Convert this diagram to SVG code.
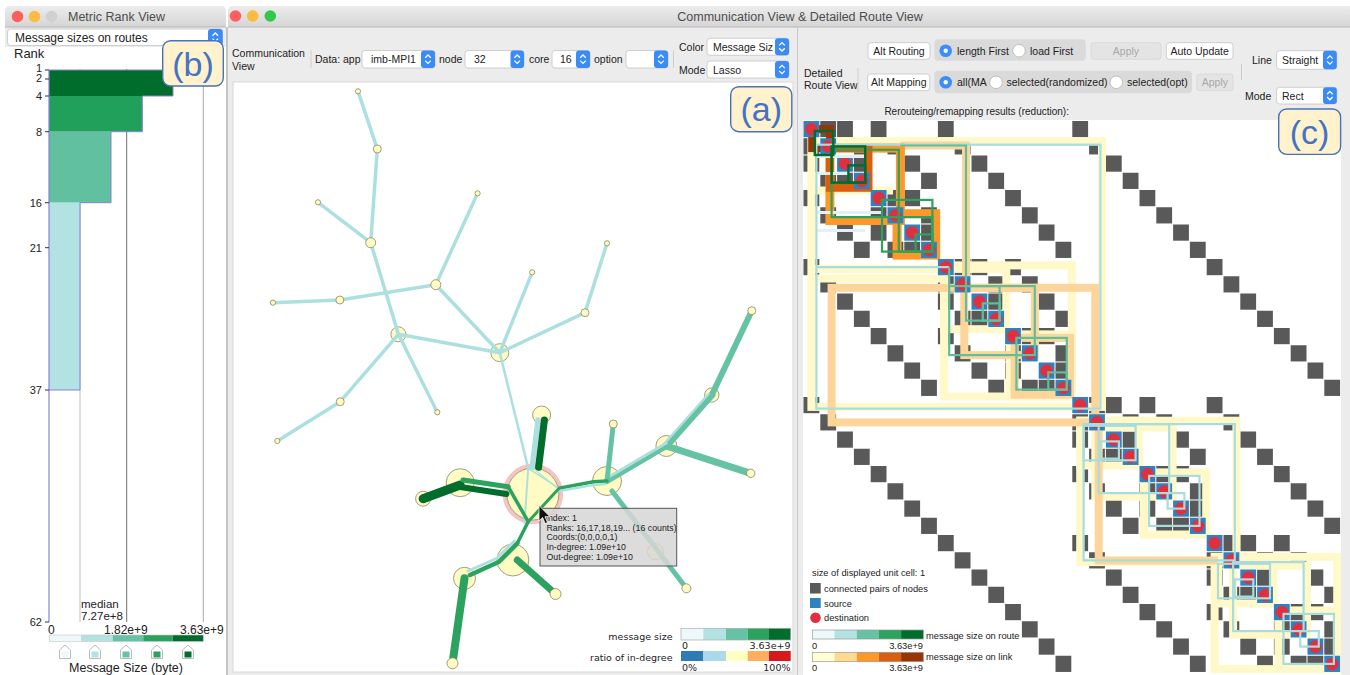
<svg xmlns="http://www.w3.org/2000/svg" width="1350" height="675" viewBox="0 0 1350 675">
<style>
text{font-family:"Liberation Sans",Arial,sans-serif;fill:#222}
.ttl{font-size:12.5px;fill:#4d4d4d}
.ui{font-size:10.5px}
.lbl{font-size:11px}
.tag{font-size:34px;fill:#4472c4;text-anchor:middle}
.tagbox{fill:#fff2cc;stroke:#4a72b8;stroke-width:1.4}
.dd{fill:#fff;stroke:#c4c4c4;stroke-width:0.8}
.stp{fill:#3a8bf5}
.btn{fill:#fff;stroke:#c4c4c4;stroke-width:0.8}
.btnoff{fill:#e4e4e4;stroke:#d6d6d6;stroke-width:0.8}
.rg{fill:#dadada}
.rsel{fill:#3b8ef5}
.roff{fill:#fff;stroke:#b3b3b3;stroke-width:0.8}
.sep{stroke:#cfcfcf;stroke-width:1}
.nd{fill:#fffbc2;stroke:#8b8467;stroke-width:0.8}
.e{fill:none;stroke-linecap:round;stroke-linejoin:round}
.e1{stroke:#ace0e0}
.e2{stroke:#66c2a4}
.e3{stroke:#2ca25f}
.e4{stroke:#006d2c}
.sm{font-size:9.3px}
.tt{font-size:8.8px}
.lg{font-size:9.5px;font-family:"DejaVu Sans",sans-serif}
.r{fill:none}
.by{stroke:#fff9c9;stroke-width:8}
.bo{stroke:#fdd59a;stroke-width:8}
.br{stroke:#fe9929;stroke-width:9}
.bd{stroke:#d95f0e;stroke-width:8}
.bb{stroke:#993404;stroke-width:8}
.lt{stroke:#a9dcdc;stroke-width:2.2}
.lw{stroke:#e3f1f6;stroke-width:3}
.lgn{stroke:#5fbf9c;stroke-width:2.2}
.lm{stroke:#2ca25f;stroke-width:2.2}
.ld{stroke:#006d2c;stroke-width:2.4}
</style>
<defs>
<linearGradient id="tb" x1="0" y1="0" x2="0" y2="1">
<stop offset="0" stop-color="#ececec"/><stop offset="1" stop-color="#d5d5d5"/>
</linearGradient>
<g id="chev"><path d="M-2.8,-1.4 L0,-4.2 L2.8,-1.4 M-2.8,1.4 L0,4.2 L2.8,1.4" fill="none" stroke="#fff" stroke-width="1.3"/></g>
<!-- hypercube adjacency: dark cells built recursively -->
<rect id="sq" x="0.5" y="0.5" width="15.8" height="16.2" fill="#595959"/>
<g id="D2"><use href="#sq"/><use href="#sq" x="16.8" y="17.25"/></g>
<g id="D4"><use href="#D2"/><use href="#D2" x="33.6" y="34.5"/></g>
<g id="D8"><use href="#D4"/><use href="#D4" x="67.2" y="69"/></g>
<g id="D16"><use href="#D8"/><use href="#D8" x="134.4" y="138"/></g>
<g id="M2"><use href="#sq" x="16.8"/><use href="#sq" y="17.25"/></g>
<g id="M4"><use href="#M2"/><use href="#M2" x="33.6" y="34.5"/><use href="#D2" y="34.5"/><use href="#D2" x="33.6"/></g>
<g id="M8"><use href="#M4"/><use href="#M4" x="67.2" y="69"/><use href="#D4" y="69"/><use href="#D4" x="67.2"/></g>
<g id="M16"><use href="#M8"/><use href="#M8" x="134.4" y="138"/><use href="#D8" y="138"/><use href="#D8" x="134.4"/></g>
<g id="M32"><use href="#M16"/><use href="#M16" x="268.8" y="276"/><use href="#D16" y="276"/><use href="#D16" x="268.8"/></g>
<!-- diagonal source/destination cells -->
<g id="g1"><rect x="0.5" y="0.5" width="15.8" height="16.2" fill="#2b83c1"/><circle cx="8.4" cy="8.6" r="6.3" fill="#e0303f"/></g>
<g id="g2"><use href="#g1"/><use href="#g1" x="16.8" y="17.25"/></g>
<g id="g4"><use href="#g2"/><use href="#g2" x="33.6" y="34.5"/></g>
<g id="g8"><use href="#g4"/><use href="#g4" x="67.2" y="69"/></g>
<g id="g16"><use href="#g8"/><use href="#g8" x="134.4" y="138"/></g>
<g id="g32"><use href="#g16"/><use href="#g16" x="268.8" y="276"/></g>
</defs>

<rect width="1350" height="675" fill="#fff"/>

<!-- ===== Metric Rank View window ===== -->
<g id="rank-window">
<rect x="5" y="27" width="221" height="648" fill="#ececec"/>
<path d="M5,27 V11 Q5,6 10,6 H221 Q226,6 226,11 V27 Z" fill="url(#tb)"/>
<line x1="5" y1="27" x2="226" y2="27" stroke="#b8b8b8"/>
<circle cx="17.5" cy="16.5" r="5.8" fill="#fc605c"/>
<circle cx="34.5" cy="16.5" r="5.8" fill="#fdbc40"/>
<circle cx="51.5" cy="16.5" r="5.8" fill="#d0d0d0"/>
<text class="ttl" x="68" y="21">Metric Rank View</text>
<rect class="dd" x="7.5" y="29" width="215" height="16.5" rx="3"/>
<rect class="stp" x="208" y="29" width="14.7" height="16.5" rx="3"/>
<use href="#chev" x="215.3" y="37.2"/>
<text x="15" y="41.5" style="font-size:12px">Message sizes on routes</text>
<rect x="5" y="47" width="221" height="628" fill="#fff"/>
<line x1="227" y1="27" x2="227" y2="675" stroke="#c4c4c4" stroke-width="2"/>
<text x="14" y="58" style="font-size:13px">Rank</text>
</g>

<g id="rank-chart">
<line x1="80" y1="69" x2="80" y2="622" stroke="#bdbdbd"/>
<line x1="126.7" y1="69" x2="126.7" y2="622" stroke="#707070"/>
<line x1="203.3" y1="69" x2="203.3" y2="622" stroke="#ababab"/>
<rect x="49" y="70" width="124" height="26" fill="#006d2c"/>
<rect x="49" y="96" width="93.3" height="35.7" fill="#21a05b"/>
<rect x="49" y="131.7" width="62" height="71" fill="#60c09f"/>
<rect x="49" y="202.7" width="31" height="187.3" fill="#b2e2e2"/>
<polyline points="49,70 173,70 173,96 142.3,96 142.3,131.7 111,131.7 111,202.7 80,202.7 80,390 49,390" fill="none" stroke="#8383d6" stroke-width="1"/>
<line x1="49" y1="70" x2="49" y2="622" stroke="#8383d6" stroke-width="1.2"/>
<g stroke="#333" stroke-width="1">
<line x1="45" y1="70" x2="49" y2="70"/><line x1="45" y1="79" x2="49" y2="79"/>
<line x1="45" y1="96" x2="49" y2="96"/><line x1="45" y1="131.7" x2="49" y2="131.7"/>
<line x1="45" y1="202.7" x2="49" y2="202.7"/><line x1="45" y1="247.7" x2="49" y2="247.7"/>
<line x1="45" y1="390" x2="49" y2="390"/><line x1="45" y1="622" x2="49" y2="622"/>
</g>
<g class="lbl" text-anchor="end">
<text x="42" y="72">1</text><text x="42" y="82">2</text><text x="42" y="100">4</text>
<text x="42" y="135.7">8</text><text x="42" y="206.7">16</text><text x="42" y="251.7">21</text>
<text x="42" y="394">37</text><text x="42" y="626">62</text>
</g>
<text x="81" y="607.5" style="font-size:11.5px">median</text>
<text x="81" y="619.5" style="font-size:11.5px">7.27e+8</text>
<text x="48" y="634" style="font-size:12px">0</text>
<text x="104" y="634" style="font-size:12px">1.82e+9</text>
<text x="180" y="634" style="font-size:12px">3.63e+9</text>
<rect x="49.3" y="635" width="31.7" height="6.5" fill="#edf8fb"/>
<rect x="81" y="635" width="31.7" height="6.5" fill="#b2e2e2"/>
<rect x="112.7" y="635" width="30.6" height="6.5" fill="#66c2a4"/>
<rect x="143.3" y="635" width="29.4" height="6.5" fill="#2ca25f"/>
<rect x="172.7" y="635" width="30.6" height="6.5" fill="#006d2c"/>
<rect x="49.3" y="635" width="154" height="6.5" fill="none" stroke="#c8c8c8" stroke-width="0.6"/>
<g stroke="#a9a9a9" stroke-width="0.8" fill="#fff">
<path d="M65,645 L70.5,650 V658.5 H59.5 V650 Z"/>
<path d="M95,645 L100.5,650 V658.5 H89.5 V650 Z"/>
<path d="M126,645 L131.5,650 V658.5 H120.5 V650 Z"/>
<path d="M157,645 L162.5,650 V658.5 H151.5 V650 Z"/>
<path d="M188,645 L193.5,650 V658.5 H182.5 V650 Z"/>
</g>
<rect x="61.5" y="651.5" width="7" height="6" fill="#edf8fb"/>
<rect x="91.5" y="651.5" width="7" height="6" fill="#b2e2e2"/>
<rect x="122.5" y="651.5" width="7" height="6" fill="#66c2a4"/>
<rect x="153.5" y="651.5" width="7" height="6" fill="#2ca25f"/>
<rect x="184.5" y="651.5" width="7" height="6" fill="#006d2c"/>
<text x="126" y="671.5" text-anchor="middle" style="font-size:12.5px">Message Size (byte)</text>
<rect class="tagbox" x="162.7" y="40.7" width="60.6" height="45.3" rx="8"/>
<text class="tag" x="193" y="75.5">(b)</text>
</g>

<!-- ===== Communication View & Detailed Route View window ===== -->
<g id="main-window">
<rect x="228" y="27" width="1122" height="648" fill="#ececec"/>
<path d="M228,27 V11 Q228,6 233,6 H1350 V27 Z" fill="url(#tb)"/>
<line x1="228" y1="27" x2="1350" y2="27" stroke="#b8b8b8"/>
<circle cx="235.5" cy="16" r="5.8" fill="#fc605c"/>
<circle cx="252.7" cy="16" r="5.8" fill="#fdbc40"/>
<circle cx="270.3" cy="16" r="5.8" fill="#34c84a"/>
<text class="ttl" x="800" y="21" text-anchor="middle">Communication View &amp; Detailed Route View</text>
<line x1="797.5" y1="27" x2="797.5" y2="675" stroke="#c8c8c8"/>
</g>

<!-- communication view toolbar -->
<g id="comm-toolbar" class="ui">
<text class="ui" x="232" y="57">Communication</text>
<text class="ui" x="232" y="69.5">View</text>
<line class="sep" x1="311" y1="50" x2="311" y2="68"/>
<text class="ui" x="315" y="63">Data: app</text>
<rect class="dd" x="362" y="50.5" width="73" height="17.5" rx="3"/>
<rect class="stp" x="421" y="50.5" width="14" height="17.5" rx="3"/>
<use href="#chev" x="428" y="59.2"/>
<text class="ui" x="371" y="63">imb-MPI1</text>
<text class="ui" x="439" y="63">node</text>
<rect class="dd" x="465" y="50.5" width="59" height="17.5" rx="3"/>
<rect class="stp" x="510.5" y="50.5" width="13.5" height="17.5" rx="3"/>
<use href="#chev" x="517.2" y="59.2"/>
<text class="ui" x="474" y="63">32</text>
<text class="ui" x="529" y="63">core</text>
<rect class="dd" x="552" y="50.5" width="38" height="17.5" rx="3"/>
<rect class="stp" x="576" y="50.5" width="14" height="17.5" rx="3"/>
<use href="#chev" x="583" y="59.2"/>
<text class="ui" x="560" y="63">16</text>
<text class="ui" x="594" y="63">option</text>
<rect class="dd" x="626" y="50.5" width="42" height="17.5" rx="3"/>
<rect class="stp" x="654" y="50.5" width="14" height="17.5" rx="3"/>
<use href="#chev" x="661" y="59.2"/>
<line class="sep" x1="673.5" y1="50" x2="673.5" y2="68"/>
<text class="ui" x="679" y="50.5">Color</text>
<rect class="dd" x="707" y="38.3" width="82" height="17" rx="3"/>
<rect class="stp" x="775" y="38.3" width="14" height="17" rx="3"/>
<use href="#chev" x="782" y="46.8"/>
<text class="ui" x="713" y="51">Message Siz</text>
<text class="ui" x="679" y="73.5">Mode</text>
<rect class="dd" x="707" y="61" width="82" height="17" rx="3"/>
<rect class="stp" x="775" y="61" width="14" height="17" rx="3"/>
<use href="#chev" x="782" y="69.5"/>
<text class="ui" x="713" y="73.5">Lasso</text>
</g>

<!-- route view toolbar -->
<g id="route-toolbar">
<text class="ui" x="804" y="76.5">Detailed</text>
<text class="ui" x="804" y="88.5">Route View</text>
<line class="sep" x1="858" y1="68" x2="858" y2="92"/>
<rect class="btn" x="868" y="42.7" width="62" height="16.6" rx="3"/>
<text class="ui" x="899" y="54.7" text-anchor="middle">Alt Routing</text>
<rect class="rg" x="934.4" y="39.3" width="151.4" height="21.4" rx="4"/>
<circle class="rsel" cx="945.7" cy="50.7" r="6.3"/><circle cx="945.7" cy="50.7" r="2.2" fill="#fff"/>
<text class="ui" x="957" y="54.7">length First</text>
<circle class="roff" cx="1019" cy="50.7" r="6.3"/>
<text class="ui" x="1030" y="54.7">load First</text>
<rect class="btnoff" x="1091" y="42.7" width="70" height="16.6" rx="3"/>
<text class="ui" x="1126" y="54.7" text-anchor="middle" style="fill:#a8a8a8">Apply</text>
<rect class="btn" x="1166.3" y="42.7" width="66.7" height="16.6" rx="3"/>
<text class="ui" x="1199.7" y="54.7" text-anchor="middle">Auto Update</text>
<rect class="btn" x="867.7" y="74" width="62.1" height="16.7" rx="3"/>
<text class="ui" x="898.8" y="86" text-anchor="middle">Alt Mapping</text>
<rect class="rg" x="934.4" y="70.7" width="257.6" height="22.6" rx="4"/>
<circle class="rsel" cx="945.7" cy="82.3" r="6.3"/><circle cx="945.7" cy="82.3" r="2.2" fill="#fff"/>
<text class="ui" x="957" y="86.2">all(MA</text>
<circle class="roff" cx="996" cy="82.3" r="6.3"/>
<text class="ui" x="1006.5" y="86.2">selected(randomized)</text>
<circle class="roff" cx="1116.3" cy="82.3" r="6.3"/>
<text class="ui" x="1127" y="86.2">selected(opt)</text>
<rect class="btnoff" x="1196.8" y="74" width="36.2" height="16.7" rx="3"/>
<text class="ui" x="1214.9" y="86" text-anchor="middle" style="fill:#a8a8a8">Apply</text>
<line class="sep" x1="1241.5" y1="64" x2="1241.5" y2="80"/>
<text class="ui" x="1252" y="64">Line</text>
<rect class="dd" x="1276.6" y="50.7" width="60.2" height="18.6" rx="3"/>
<rect class="stp" x="1323" y="50.7" width="13.8" height="18.6" rx="3"/>
<use href="#chev" x="1329.9" y="60"/>
<text class="ui" x="1282" y="64">Straight</text>
<text class="ui" x="1245" y="100">Mode</text>
<rect class="dd" x="1276.6" y="87.3" width="60.2" height="16.7" rx="3"/>
<rect class="stp" x="1323" y="87.3" width="13.8" height="16.7" rx="3"/>
<use href="#chev" x="1329.9" y="95.6"/>
<text class="ui" x="1282" y="99.5">Rect</text>
<text x="884.4" y="114.5" style="font-size:10px">Rerouteing/remapping results (reduction):</text>
</g>

<!-- ===== Communication view canvas ===== -->
<rect x="233" y="82" width="560" height="590" fill="#fff" stroke="#d8d8d8" stroke-width="1"/>

<!-- large nodes sit beneath the links that cross them -->
<g id="n24"><circle cx="532.9" cy="494" r="28.2" fill="none" stroke="#f6c3c3" stroke-width="4"/><circle class="nd" cx="532.9" cy="494" r="26"/></g>
<g id="n27"><circle class="nd" cx="512.9" cy="560" r="16"/></g>
<g id="n25"><circle class="nd" cx="460.2" cy="482.7" r="14"/></g>
<g id="n23"><circle class="nd" cx="607" cy="481" r="14.5"/></g>
<g id="n28"><circle class="nd" cx="464.5" cy="578.3" r="11"/></g>
<g id="n21"><circle class="nd" cx="666.4" cy="446" r="10.5"/></g>
<g id="n10"><circle class="nd" cx="499.8" cy="352.7" r="9"/></g>
<g id="n18"><circle class="nd" cx="541.6" cy="415" r="9"/></g>
<g id="n9"><circle class="nd" cx="398.4" cy="334.3" r="7.5"/></g>
<g id="n20"><circle class="nd" cx="711.8" cy="395" r="7.2"/></g>
<g id="n26"><circle class="nd" cx="423.1" cy="498.7" r="7.5"/></g>
<g id="n32"><circle class="nd" cx="655.5" cy="551.7" r="8"/></g>

<g id="connectors" class="e">
<g class="e e1" stroke-width="3.5">
<line x1="358" y1="91.3" x2="377.3" y2="149"/>
<line x1="377.3" y1="149" x2="370.7" y2="242.7"/>
<line x1="318" y1="202.3" x2="370.7" y2="242.7"/>
<line x1="370.7" y1="242.7" x2="398.4" y2="334.3"/>
<line x1="477.6" y1="193.3" x2="435.8" y2="284.7"/>
<line x1="435.8" y1="284.7" x2="339.8" y2="300"/>
<line x1="339.8" y1="300" x2="272.9" y2="302.7"/>
<line x1="435.8" y1="284.7" x2="499.8" y2="352.7"/>
<line x1="398.4" y1="334.3" x2="499.8" y2="352.7"/>
<line x1="499.8" y1="352.7" x2="532.2" y2="272.3"/>
<line x1="499.8" y1="352.7" x2="585" y2="312.7"/>
<line x1="585" y1="312.7" x2="607" y2="243.3"/>
<line x1="398.4" y1="334.3" x2="340.2" y2="401.7"/>
<line x1="340.2" y1="401.7" x2="277.3" y2="441"/>
<line x1="398.4" y1="334.3" x2="437.3" y2="412.3"/>
</g>
<line class="e e1" x1="499.8" y1="352.7" x2="528.2" y2="468.3" stroke-width="2.5"/>
<line class="e e2" x1="751.8" y1="310.7" x2="711.8" y2="395" stroke-width="6"/>
<line class="e e2" x1="711.8" y1="395" x2="666.4" y2="446" stroke-width="7"/>
<line class="e e1" x1="708.5" y1="394" x2="663.5" y2="444.5" stroke-width="2.5"/>
<line class="e e2" x1="666.4" y1="446" x2="750.7" y2="473.3" stroke-width="7"/>
<line class="e e2" x1="666.4" y1="446" x2="607" y2="481" stroke-width="6"/>
<line class="e e1" x1="666.4" y1="443" x2="607" y2="478" stroke-width="2.8"/>
<line class="e e2" x1="607" y1="481" x2="613.3" y2="424" stroke-width="5"/>
<line class="e e2" x1="612" y1="491" x2="686.4" y2="588.3" stroke-width="5"/>
<polyline class="e e3" points="607,481 593.6,481.7 559.1,488.3" stroke-width="3.5"/>
<polyline class="e e1" points="605,484 593,485 559,491" stroke-width="2.5"/>
<line class="e e1" x1="538" y1="420" x2="532.2" y2="467.3" stroke-width="5.5"/>
<line class="e e4" x1="544.4" y1="420" x2="538.6" y2="467.3" stroke-width="7"/>
<line class="e e1" x1="528.2" y1="468.3" x2="559.1" y2="488.3" stroke-width="1.5"/>
<line class="e e1" x1="528.2" y1="468.3" x2="524.5" y2="523.3" stroke-width="2"/>
<line class="e e1" x1="534" y1="469" x2="556" y2="487" stroke-width="1.2"/>
<line class="e e4" x1="423.1" y1="498.7" x2="460.2" y2="485" stroke-width="9"/>
<line class="e e4" x1="460.2" y1="487" x2="506.4" y2="494" stroke-width="6"/>
<line class="e e3" x1="463" y1="480" x2="508.2" y2="486.7" stroke-width="5"/>
<polyline class="e e3" points="508.2,486.7 528.2,521.7 517.3,543.3" stroke-width="3.5"/>
<polyline class="e e3" points="559.1,488.3 528.2,521.7" stroke-width="3"/>
<polyline class="e e3" points="517.3,543.3 499.1,561.7 470,575" stroke-width="4.5"/>
<polyline class="e e1" points="514.5,541 496.5,558.5 468,571" stroke-width="3"/>
<line class="e e3" x1="464.5" y1="578.3" x2="452.5" y2="663.3" stroke-width="8"/>
<line class="e e3" x1="517.3" y1="560" x2="555.5" y2="594" stroke-width="7"/>
</g>

<!-- small nodes drawn over their link ends -->
<g id="n1"><circle class="nd" cx="358" cy="91.3" r="2.6"/></g>
<g id="n2"><circle class="nd" cx="377.3" cy="149" r="4"/></g>
<g id="n3"><circle class="nd" cx="318" cy="202.3" r="2.6"/></g>
<g id="n4"><circle class="nd" cx="370.7" cy="242.7" r="5"/></g>
<g id="n5"><circle class="nd" cx="477.6" cy="193.3" r="2.6"/></g>
<g id="n6"><circle class="nd" cx="435.8" cy="284.7" r="5"/></g>
<g id="n7"><circle class="nd" cx="339.8" cy="300" r="4"/></g>
<g id="n8"><circle class="nd" cx="272.9" cy="302.7" r="2.6"/></g>
<g id="n11"><circle class="nd" cx="532.2" cy="272.3" r="2.6"/></g>
<g id="n12"><circle class="nd" cx="607" cy="243.3" r="2.6"/></g>
<g id="n13"><circle class="nd" cx="585" cy="312.7" r="4"/></g>
<g id="n14"><circle class="nd" cx="751.8" cy="310.7" r="4"/></g>
<g id="n15"><circle class="nd" cx="340.2" cy="401.7" r="4"/></g>
<g id="n16"><circle class="nd" cx="277.3" cy="441" r="2.6"/></g>
<g id="n17"><circle class="nd" cx="437.3" cy="412.3" r="2.6"/></g>
<g id="n19"><circle class="nd" cx="613.3" cy="424" r="4"/></g>
<g id="n22"><circle class="nd" cx="750.7" cy="473.3" r="4.2"/></g>
<g id="n29"><circle class="nd" cx="555.5" cy="594" r="5.5"/></g>
<g id="n30"><circle class="nd" cx="452.5" cy="663.3" r="5.5"/></g>
<g id="n31"><circle class="nd" cx="686.4" cy="588.3" r="4.5"/></g>

<!-- hover tooltip -->
<g id="tooltip">
<rect x="540" y="508.3" width="136.7" height="57.7" fill="#d6d6d6" fill-opacity="0.85" stroke="#555" stroke-width="1"/>
<text class="tt" x="545.5" y="521">Index: 1</text>
<text class="tt" x="546.5" y="530.6">Ranks: 16,17,18,19... (16 counts)</text>
<text class="tt" x="546.5" y="540">Coords:(0,0,0,0,1)</text>
<text class="tt" x="546.5" y="550">In-degree: 1.09e+10</text>
<text class="tt" x="546.5" y="560">Out-degree: 1.09e+10</text>
<path d="M539,505.5 V521 L542.6,517.6 L545.2,523.6 L547.6,522.6 L545,516.7 L550,516.7 Z" fill="#111" stroke="#fff" stroke-width="0.8"/>
</g>

<!-- communication view legend -->
<g id="comm-legend">
<text class="lg" x="672.5" y="640" text-anchor="end">message size</text>
<rect x="681" y="628.3" width="22.3" height="11.7" fill="#edf8fb"/>
<rect x="703.3" y="628.3" width="22.7" height="11.7" fill="#b2e2e2"/>
<rect x="726" y="628.3" width="21.7" height="11.7" fill="#66c2a4"/>
<rect x="747.7" y="628.3" width="21.3" height="11.7" fill="#2ca25f"/>
<rect x="769" y="628.3" width="21.7" height="11.7" fill="#006d2c"/>
<rect x="681" y="628.3" width="109.7" height="11.7" fill="none" stroke="#aaa" stroke-width="0.7"/>
<text class="lg" x="682" y="648.5">0</text>
<text class="lg" x="790.5" y="648.5" text-anchor="end">3.63e+9</text>
<text class="lg" x="672.5" y="661" text-anchor="end">ratio of in-degree</text>
<rect x="681" y="651" width="22.3" height="10" fill="#2c7bb6"/>
<rect x="703.3" y="651" width="22.7" height="10" fill="#abd9e9"/>
<rect x="726" y="651" width="21.7" height="10" fill="#ffffbf"/>
<rect x="747.7" y="651" width="21.3" height="10" fill="#fdae61"/>
<rect x="769" y="651" width="21.7" height="10" fill="#d7191c"/>
<text class="lg" x="682" y="671">0%</text>
<text class="lg" x="790.5" y="671" text-anchor="end">100%</text>
</g>
<rect class="tagbox" x="730.7" y="86.7" width="61.1" height="45" rx="8"/>
<text class="tag" x="761.2" y="121">(a)</text>

<!-- ===== Detailed route matrix ===== -->
<rect x="803" y="120" width="538" height="555" fill="#fff"/>
<g id="route-matrix" transform="translate(803,120.5)">
<use href="#M32"/>
<g class="r">
<!-- link load bands -->
<g class="r by">
<rect x="8.4" y="20.7" width="290.6" height="265.7"/>
<rect x="141.1" y="144.9" width="127.7" height="131.1"/>
<rect x="141.1" y="148.4" width="62.2" height="60.3"/>
<rect x="206.6" y="213.9" width="62.2" height="62.1"/>
<line x1="8.4" y1="148.4" x2="141.1" y2="148.4"/>
<line x1="8.4" y1="158" x2="141.1" y2="158"/>
<line x1="8.4" y1="70" x2="90" y2="70"/>
<rect x="277.2" y="300.2" width="156.2" height="141.4"/>
<rect x="411.6" y="436.4" width="122.6" height="112.2"/>
<rect x="277.2" y="300.2" width="58.8" height="44.8"/>
<rect x="341" y="351.9" width="62.2" height="62.1"/>
<rect x="415" y="439.9" width="55.4" height="43.1"/>
<rect x="475.4" y="489.9" width="58.8" height="58.7"/>
<rect x="292.3" y="307.1" width="77.3" height="68.9"/>
<rect x="430.1" y="445.1" width="73.9" height="68.9"/>
</g>
<g class="r bo">
<rect x="28.6" y="167.3" width="263.7" height="134.6"/>
<polyline points="97.4,25 163,25 163,167.3"/>
<rect x="161.3" y="167.3" width="70.5" height="67.3"/>
<rect x="211.7" y="217.4" width="55.4" height="56.9"/>
<polyline points="295.7,308.8 295.7,439.9 415,439.9"/>
</g>
<g class="r br">
<rect x="26.9" y="27.6" width="70.5" height="72.4"/>
<rect x="94.1" y="93.2" width="38.6" height="41.4"/>
</g>
<rect class="r bd" x="26.9" y="27.6" width="38.6" height="39.7"/>
<rect class="r bb" x="9.2" y="8.6" width="17.7" height="19"/>
</g>
<use href="#g32"/>
<g class="r">
<!-- route lines -->
<g class="r lw">
<line x1="13.4" y1="36" x2="62" y2="36"/>
<line x1="13.4" y1="53" x2="45" y2="53"/>
<line x1="13.4" y1="92" x2="80" y2="92"/>
<line x1="13.4" y1="110" x2="62" y2="110"/>
</g>
<g class="r lt">
<rect x="13.4" y="24.2" width="284" height="263.9"/>
<line x1="13.4" y1="146.6" x2="146.2" y2="146.6"/>
<rect x="280.6" y="303.6" width="151.2" height="136.3"/>
<rect x="295.7" y="303.6" width="70.5" height="69"/>
<rect x="280.6" y="305.3" width="52" height="34.5"/>
<rect x="346.1" y="355.4" width="50.4" height="50"/>
<rect x="430.1" y="441.6" width="70.5" height="69"/>
<rect x="415" y="443.3" width="52" height="34.5"/>
<rect x="480.5" y="493.4" width="50.4" height="50"/>
<rect x="297.4" y="320.9" width="18.5" height="17.2"/>
<rect x="364.6" y="372.6" width="16.8" height="15.5"/>
<rect x="431.8" y="458.9" width="18.5" height="17.2"/>
<rect x="497.3" y="510.6" width="18.5" height="15.5"/>
</g>
<g class="r lgn">
<rect x="146.2" y="165.6" width="85.6" height="69"/>
<line x1="146.2" y1="146.6" x2="146.2" y2="165.6"/>
<rect x="163" y="165.6" width="33.6" height="34.5"/>
<rect x="213.4" y="217.4" width="50.4" height="51.7"/>
<rect x="179.8" y="182.9" width="16.8" height="17.25"/>
<rect x="245.3" y="251.9" width="18.5" height="17.25"/>
<polyline points="97.4,25 163,25 163,165.6"/>
</g>
<g class="r lm">
<rect x="28.6" y="29.3" width="67.2" height="67.3"/>
<rect x="79" y="79.4" width="50.4" height="51.7"/>
<rect x="95.8" y="96.6" width="33.6" height="34.5"/>
<rect x="112.6" y="113.9" width="16.8" height="17.25"/>
</g>
<g class="r ld">
<rect x="11.8" y="10.4" width="18.5" height="24.1"/>
<rect x="28.6" y="25.9" width="33.6" height="36.2"/>
<rect x="45.4" y="44.9" width="16.8" height="17.25"/>
</g>
</g>
</g>
<rect x="1341" y="115" width="9" height="560" fill="#ececec"/>

<!-- matrix legend -->
<g id="matrix-legend">
<text class="sm" x="812" y="575.5">size of displayed unit cell: 1</text>
<rect x="810" y="583" width="10.7" height="10.5" fill="#595959"/>
<text class="sm" x="824" y="591.5">connected pairs of nodes</text>
<rect x="810" y="598" width="10.7" height="10" fill="#2b83c1"/>
<text class="sm" x="824" y="606.5">source</text>
<circle cx="815.5" cy="617.7" r="5.3" fill="#e0303f"/>
<text class="sm" x="824" y="621">destination</text>
<rect x="812.3" y="630" width="22.2" height="9" fill="#edf8fb"/>
<rect x="834.5" y="630" width="22.2" height="9" fill="#b2e2e2"/>
<rect x="856.7" y="630" width="22.2" height="9" fill="#66c2a4"/>
<rect x="878.9" y="630" width="22.2" height="9" fill="#2ca25f"/>
<rect x="901.1" y="630" width="22.2" height="9" fill="#006d2c"/>
<rect x="812.3" y="630" width="111" height="9" fill="none" stroke="#999" stroke-width="0.7"/>
<text class="sm" x="812" y="648.5">0</text>
<text class="sm" x="923" y="648.5" text-anchor="end">3.63e+9</text>
<text class="sm" x="926" y="638.5">message size on route</text>
<rect x="812.3" y="652.3" width="22.2" height="9.4" fill="#ffffd4"/>
<rect x="834.5" y="652.3" width="22.2" height="9.4" fill="#fed98e"/>
<rect x="856.7" y="652.3" width="22.2" height="9.4" fill="#fe9929"/>
<rect x="878.9" y="652.3" width="22.2" height="9.4" fill="#d95f0e"/>
<rect x="901.1" y="652.3" width="22.2" height="9.4" fill="#993404"/>
<rect x="812.3" y="652.3" width="111" height="9.4" fill="none" stroke="#999" stroke-width="0.7"/>
<text class="sm" x="812" y="670.5">0</text>
<text class="sm" x="923" y="670.5" text-anchor="end">3.63e+9</text>
<text class="sm" x="926" y="660">message size on link</text>
</g>
<rect class="tagbox" x="1278.7" y="109" width="61.9" height="45.4" rx="8"/>
<text class="tag" x="1309.6" y="143.5">(c)</text>
</svg>
